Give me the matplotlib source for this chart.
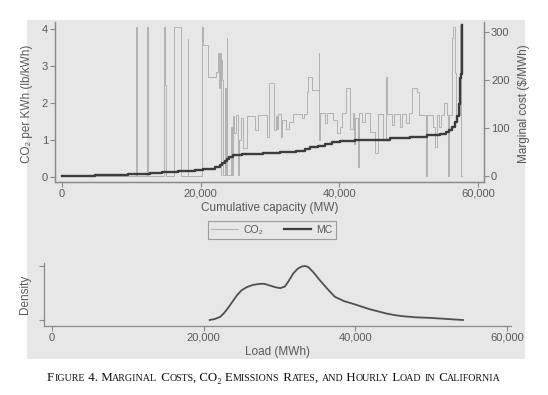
"""Marginal cost / CO2 merit-order curve for California, with the hourly load density below."""
import matplotlib
matplotlib.use("Agg")
import matplotlib.pyplot as plt
from matplotlib.patches import Rectangle
from matplotlib.lines import Line2D
from matplotlib.ticker import FuncFormatter

# CO2 rate per step of the supply stack (left edge of each step, MW ; lb/kWh)
co2_mw = [0, 10743, 10887, 12329, 12444, 14752, 14896, 15040, 16194, 17117,
          18126, 18241, 20231, 20375, 21096, 22164, 22452, 22596, 22784, 22885,
          22971, 23115, 23259, 23505, 23606, 23750, 23865, 24370, 24557, 24701,
          24846, 25048, 25422, 25523, 25812, 26143, 26634, 27830, 28306, 29518,
          29849, 30570, 30787, 31003, 31190, 31580, 31796, 32301, 32733, 33310,
          34608, 34896, 35286, 35473, 36050, 37016, 37103, 37204, 37925, 38213,
          39078, 39655, 40088, 40376, 40953, 41530, 41919, 42063, 42207, 42640,
          42784, 43260, 43693, 44414, 45135, 45567, 46288, 46764, 46865, 47586,
          47874, 48740, 49028, 49605, 50037, 50427, 51148, 51479, 52532, 52633,
          53498, 53787, 54003, 54363, 54652, 55084, 55474, 55661, 55762, 56195,
          56382, 56671, 56815, 57392, 57493, 57608]
co2_val = [0.03, 4.05, 0.03, 4.05, 0.03, 4.05, 2.49, 0.03, 4.05, 0.03,
           3.73, 0.03, 4.05, 3.57, 2.69, 2.85, 3.34, 2.40, 3.35, 0.05,
           3.17, 2.62, 0.05, 2.40, 0.05, 3.75, 0.05, 1.36, 0.05, 1.65,
           1.20, 1.67, 0.05, 1.00, 1.60, 0.78, 1.64, 1.27, 1.67, 1.09,
           2.53, 1.27, 1.65, 1.30, 1.69, 1.09, 1.55, 1.30, 1.50, 1.69,
           1.60, 1.69, 2.30, 2.69, 2.35, 3.36, 1.00, 1.73, 1.45, 1.73,
           1.55, 1.20, 1.35, 1.73, 2.40, 1.30, 1.73, 0.90, 1.60, 0.27,
           1.73, 1.50, 1.73, 1.22, 0.64, 1.69, 0.99, 2.70, 1.69, 1.40,
           1.69, 1.35, 1.69, 1.45, 1.73, 2.40, 2.30, 1.68, 0.03, 1.68,
           1.35, 0.80, 1.68, 1.35, 1.68, 2.00, 1.68, 0.03, 1.68, 3.75,
           4.06, 2.80, 1.68, 4.10, 0.03, 0.03]

# marginal cost of the stack ($/MWh)
mc_mw = [0, 4759, 9517, 12690, 14420, 16728, 19179, 20332, 22063, 22784,
         23144, 23505, 23793, 24081, 24658, 25913, 28984, 31436, 33743, 35041,
         35762, 36915, 37925, 38934, 40088, 42251, 44414, 47298, 50182, 52633,
         54508, 55373, 55805, 56238, 56671, 56959, 57175, 57320, 57435, 57536,
         57637, 57680]
mc_val = [1, 3, 5, 7, 9, 10, 12, 15, 18, 22,
          27, 31, 36, 40, 43, 46, 48, 50, 53, 57,
          60, 63, 67, 70, 72, 74, 76, 79, 82, 85,
          88, 91, 95, 102, 113, 125, 150, 175, 205, 212,
          315, 315]

# kernel density of hourly load (scaled so the peak is ~1)
load_mw = [20800, 21500, 22200, 22700, 23200, 23800, 24400, 25000, 25700, 26500,
           27400, 28000, 28700, 29400, 30100, 30700, 31200, 31800, 32400, 32900,
           33400, 33800, 34500, 35300, 36300, 37300, 38500, 39700, 40800, 41900,
           43000, 44100, 45200, 46300, 48000, 49800, 52000, 54200]
load_dens = [0.00, 0.02, 0.06, 0.13, 0.22, 0.34, 0.46, 0.55, 0.61, 0.65,
             0.67, 0.67, 0.64, 0.61, 0.59, 0.62, 0.72, 0.86, 0.95, 0.99,
             1.00, 0.98, 0.88, 0.74, 0.58, 0.43, 0.35, 0.30, 0.25, 0.20,
             0.16, 0.12, 0.09, 0.07, 0.05, 0.04, 0.02, 0.00]

x_ticks = [0, 20000, 40000, 60000]
co2_ticks = [0, 1, 2, 3, 4]
mc_ticks = [0, 100, 200, 300]

caption = "Figure 4. Marginal Costs, CO\u2082 Emissions Rates, and Hourly Load in California"

SANS = ["Liberation Sans", "DejaVu Sans"]
plt.rcParams["font.family"] = SANS
plt.rcParams["font.size"] = 8
TXT = "#5a5a5a"
SPINE = "#8a8a8a"
CO2_C = "#b2b2b2"
MC_C = "#3c3c3c"

fig = plt.figure(figsize=(5.48, 3.95), dpi=100)
fig.patch.set_facecolor("white")
# scanned-page grey panel behind the plots
fig.patches.append(Rectangle((27 / 548, 1 - 359 / 395), 498 / 548, 339 / 395,
                             transform=fig.transFigure, facecolor="#e7e7e7",
                             edgecolor="none", zorder=-5))

fmt = FuncFormatter(lambda v, _: f"{v:,.0f}")


def style(ax, sides):
    ax.set_facecolor("none")
    for s in ["left", "right", "top", "bottom"]:
        ax.spines[s].set_visible(s in sides)
        ax.spines[s].set_color(SPINE)
        ax.spines[s].set_linewidth(0.9)
    ax.tick_params(colors=SPINE, labelcolor=TXT, length=3.5, width=0.8,
                   labelsize=8, pad=1.5)


# top panel: CO2 (left) and MC (right)
ax = fig.add_axes([55 / 548, 1 - 182 / 395, 429 / 548, 160 / 395])
style(ax, ["left", "bottom", "right"])
ax.step(co2_mw, co2_val, where="post", color=CO2_C, lw=0.7, zorder=2)
ax.set_xlim(-1009, 60852)
ax.set_ylim(-0.135, 4.19)
ax.set_xticks(x_ticks)
ax.xaxis.set_major_formatter(fmt)
ax.set_yticks(co2_ticks)
ax.set_ylabel("CO\u2082 per KWh (lb/kWh)", color=TXT, fontsize=8.5)
ax.yaxis.set_label_coords(-0.051, 0.49)
ax.set_xlabel("Cumulative capacity (MW)", color=TXT, fontsize=8.5, labelpad=2)

ax2 = ax.twinx()
style(ax2, ["left", "bottom", "right"])
ax2.step(mc_mw, mc_val, where="post", color=MC_C, lw=1.7, zorder=3)
ax2.set_ylim(-12.5, 320.8)
ax2.set_yticks(mc_ticks)
ax2.set_ylabel("Marginal cost ($/MWh)", color=TXT, fontsize=8.5)
ax2.yaxis.set_label_coords(1.079, 0.49)

handles = [Line2D([], [], color=CO2_C, lw=0.8), Line2D([], [], color=MC_C, lw=1.6)]
leg = fig.legend(handles, ["CO\u2082", "MC"], loc="center", ncol=2,
                 bbox_to_anchor=(272 / 548, 1 - 230 / 395), frameon=True,
                 fancybox=False, edgecolor=SPINE, facecolor="none",
                 handlelength=2.6, columnspacing=2.0, handletextpad=0.5,
                 borderpad=0.35, fontsize=7.5)
leg.get_frame().set_linewidth(0.8)
for t in leg.get_texts():
    t.set_color(TXT)

# bottom panel: load density
axd = fig.add_axes([44 / 548, 1 - 326 / 395, 467 / 548, 63 / 395])
style(axd, ["left", "bottom"])
axd.plot(load_mw, load_dens, color="#505050", lw=1.3)
axd.set_xlim(-1055, 60530)
axd.set_ylim(-0.111, 1.056)
axd.set_xticks(x_ticks)
axd.xaxis.set_major_formatter(fmt)
axd.set_yticks([0, 1])
axd.set_yticklabels([])
axd.set_ylabel("Density", color=TXT, fontsize=8.5)
axd.yaxis.set_label_coords(-0.028, 0.5)
axd.set_xlabel("Load (MWh)", color=TXT, fontsize=8.5, labelpad=2)

# caption in (faux) small caps, laid out piece by piece
renderer = fig.canvas.get_renderer()
runs = []
for ch in caption:
    small = ch.islower()
    txt = ch.upper()
    if runs and runs[-1][1] == small:
        runs[-1][0] += txt
    else:
        runs.append([txt, small])
SERIF = ["Liberation Serif", "DejaVu Serif"]
pieces = []
for txt, small in runs:
    t = fig.text(0, 1 - 381 / 395, txt, fontsize=7.2 if small else 9.3,
                 family=SERIF, color="#111111", ha="left", va="baseline")
    pieces.append(t)
widths = [p.get_window_extent(renderer).width for p in pieces]
x = 274 - sum(widths) / 2
for p, w in zip(pieces, widths):
    p.set_x(x / 548)
    x += w

fig.savefig("out.png", dpi=100)
